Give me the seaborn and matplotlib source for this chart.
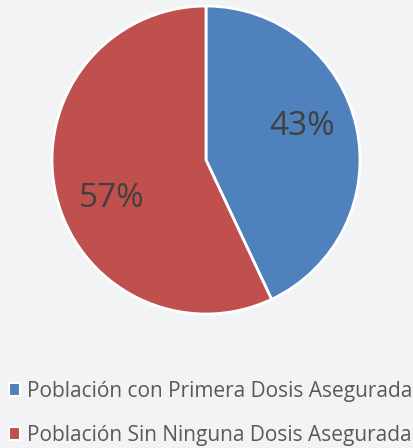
import matplotlib
matplotlib.use("Agg")
import matplotlib.pyplot as plt
import seaborn as sns
import numpy as np

categories = ["Población con Primera Dosis Asegurada", "Población Sin Ninguna Dosis Asegurada"]
values = [43, 57]
colors = ["#4F81BD", "#C0504D"]
bg = "#F2F3F5"

sns.set_theme(style="white")
plt.rcParams['font.family'] = ['Open Sans', 'DejaVu Sans']

fig = plt.figure(figsize=(4.14, 4.48), dpi=100, facecolor=bg)
ax = fig.add_axes([52/414, 1 - 314/448, 308/414, 308/448])
ax.set_facecolor(bg)

wedges, texts, autotexts = ax.pie(
    values, colors=colors, startangle=90, counterclock=False,
    autopct=lambda p: f"{p:.0f}%", pctdistance=0.66,
    wedgeprops=dict(edgecolor="white", linewidth=2),
    textprops=dict(color="#404040", fontsize=24),
)
# Excel-like label placement (slightly rotated from wedge middle)
for t, ang in zip(autotexts, [19, 202]):
    r = 0.66
    t.set_position((r * np.cos(np.radians(ang)), r * np.sin(np.radians(ang))))
ax.set_aspect("equal")
ax.set_xlim(-1.0, 1.0)
ax.set_ylim(-1.0, 1.0)

leg = fig.legend(wedges, categories, loc="upper left", bbox_to_anchor=(9/414, 1 - 381/448),
                 frameon=False, fontsize=15, handlelength=0.55, handleheight=0.55,
                 handletextpad=0.3, labelspacing=1.1, borderaxespad=0, borderpad=0)
for txt in leg.get_texts():
    txt.set_color("#595959")
for h in leg.legend_handles:
    h.set_edgecolor("white")
    h.set_linewidth(1.5)

fig.savefig("out.png", dpi=100, facecolor=bg)
